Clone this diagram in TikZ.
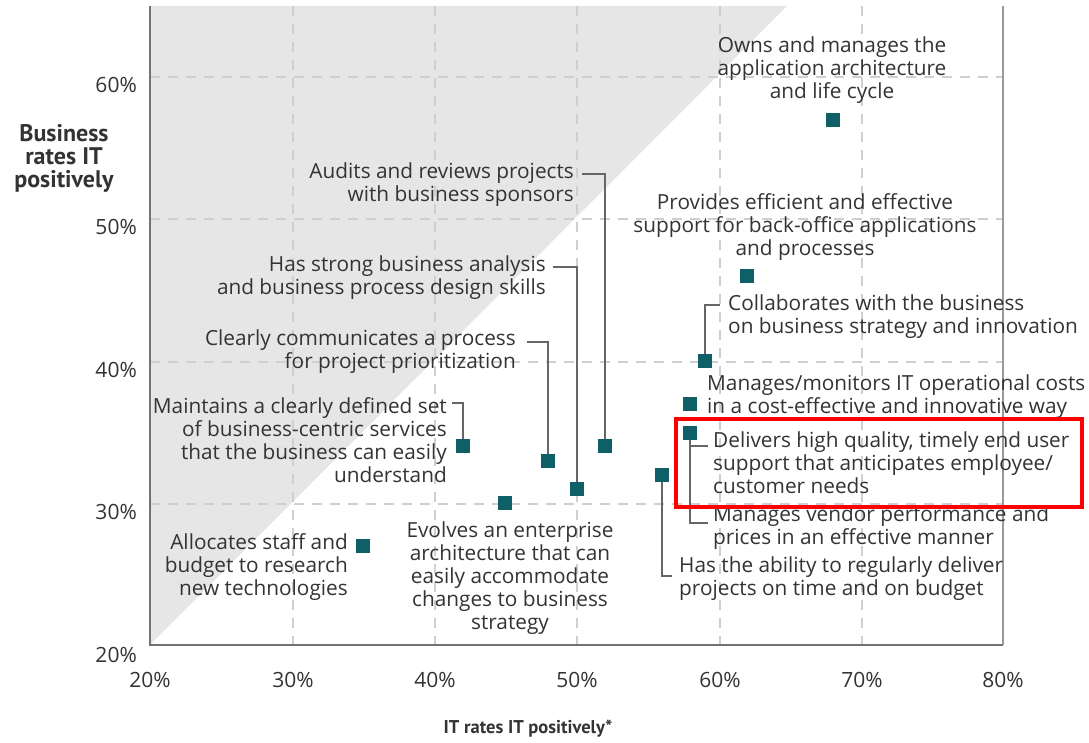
\documentclass[tikz,border=0pt]{standalone}
\usepackage{fontspec}
\setmainfont{Open Sans}
\newfontfamily\ptsans{PT Sans}
\usetikzlibrary{positioning}
\definecolor{txt}{HTML}{333333}
\definecolor{teal}{HTML}{0E5F66}
\definecolor{tri}{HTML}{E6E6E6}
\definecolor{grid}{HTML}{CFCFCF}
\definecolor{lead}{HTML}{666666}
\tikzset{
  lbl/.style={inner sep=0pt, text=txt, font=\fontsize{20.8}{23}\selectfont},
  tick/.style={inner sep=0pt, text=txt, font=\fontsize{21}{22}\selectfont},
  ttl/.style={inner sep=0pt, text=txt, align=center},
  pt/.style={fill=teal, draw=none, minimum size=14pt, inner sep=0pt},
  leader/.style={draw=lead, line width=1.3pt},
  gridln/.style={draw=grid, line width=1.2pt, dash pattern=on 10pt off 8pt},
  hl/.style={draw=red, line width=4pt}
}
\begin{document}
\begin{tikzpicture}[x=1pt,y=-1pt]
\useasboundingbox (0,0) rectangle (1089,743);
% triangle
\fill[tri] (150,645) -- (787,6) -- (150,6) -- cycle;
% grid
\foreach \gx in {293,435,577,720,862} \draw[gridln] (\gx,6) -- (\gx,645);
\foreach \gy in {77,219,362,504} \draw[gridln] (150,\gy) -- (1003,\gy);
% frame
\draw[draw=gray!80, line width=1.5pt] (1003,6) -- (1003,645);
\draw[draw=gray!90!black, line width=2pt] (150,6) -- (150,645) -- (1003,645);
% ticks
\node[tick, anchor=east] (y60) at (137,85) {60\%};
\node[tick, anchor=east] (y50) at (137,227) {50\%};
\node[tick, anchor=east] (y40) at (137,370) {40\%};
\node[tick, anchor=east] (y30) at (137,512) {30\%};
\node[tick, anchor=east] (y20) at (137,655) {20\%};
\foreach \gx/\lab [count=\i] in {150/20,293/30,435/40,577/50,720/60,862/70,1003/80}
  \node[tick] (x\i) at (\gx,680) {\lab\%};
\node[ttl, font=\ptsans\fontsize{24}{23}\selectfont\bfseries] (ytitle) at (64,158) {Business\\rates IT\\positively};
\node[ttl, font=\ptsans\fontsize{18.5}{23}\selectfont\bfseries] (xtitle) at (528,729) {IT rates IT positively*};
% points
\node[pt] (p1) at (833,120) {};
\node[pt] (p2) at (747,276) {};
\node[pt] (p3) at (705,361) {};
\node[pt] (p4) at (690,404) {};
\node[pt] (p5) at (690,433) {};
\node[pt] (p6) at (662,475) {};
\node[pt] (p7) at (605,446) {};
\node[pt] (p8) at (577,489) {};
\node[pt] (p9) at (548,461) {};
\node[pt] (p10) at (463,446) {};
\node[pt] (p11) at (505,503) {};
\node[pt] (p12) at (363,546) {};
% labels
\node[lbl, align=center] (l1) at (832,70) {Owns and manages the\\application architecture\\and life cycle};
\node[lbl, align=center] (l2) at (805,227) {Provides efficient and effective\\support for back-office applications\\and processes};
\node[lbl, align=left, anchor=west] (l3) at (728,317) {Collaborates with the business\\on business strategy and innovation};
\node[lbl, align=left, anchor=west] (l4) at (707,397) {Manages/monitors IT operational costs\\in a cost-effective and innovative way};
\node[lbl, align=left, anchor=west] (l5) at (713,463) {Delivers high quality, timely end user\\support that anticipates employee/\\customer needs};
\node[lbl, align=left, anchor=west] (l13) at (713,528) {Manages vendor performance and\\prices in an effective manner};
\node[lbl, align=left, anchor=west] (l6) at (679,579) {Has the ability to regularly deliver\\projects on time and on budget};
\node[lbl, align=right, anchor=east] (l7) at (574,185) {Audits and reviews projects\\with business sponsors};
\node[lbl, align=right, anchor=east] (l8) at (546,278) {Has strong business analysis\\and business process design skills};
\node[lbl, align=right, anchor=east] (l9) at (516,352) {Clearly communicates a process\\for project prioritization};
\node[lbl, align=right, anchor=east] (l10) at (447,440) {Maintains a clearly defined set\\of business-centric services\\that the business can easily\\understand};
\node[lbl, align=center] (l11) at (510,578) {Evolves an enterprise\\architecture that can\\easily accommodate\\changes to business\\strategy};
\node[lbl, align=right, anchor=east] (l12) at (348,567) {Allocates staff and\\budget to research\\new technologies};
% leader end coordinates
\coordinate (c3) at (720,305);
\coordinate (c5) at (708,446);
\coordinate (c13) at (708,523);
\coordinate (c6) at (672,576);
\coordinate (c7) at (582,174);
\coordinate (c8) at (553,267);
\coordinate (c9) at (527,342);
\coordinate (c10) at (452,403);
% leaders
\draw[leader] (p3.north) |- (c3);
\draw[leader] (p5.south) |- (c13);
\draw[leader] (p5.south |- c5) -- (c5);
\draw[leader] (p6.south) |- (c6);
\draw[leader] (c7) -| (p7.north);
\draw[leader] (c8) -| (p8.north);
\draw[leader] (c9) -| (p9.north);
\draw[leader] (c10) -| (p10.north);
% highlight
\draw[hl] (676,419) rectangle (1082,507);
\end{tikzpicture}
\end{document}
